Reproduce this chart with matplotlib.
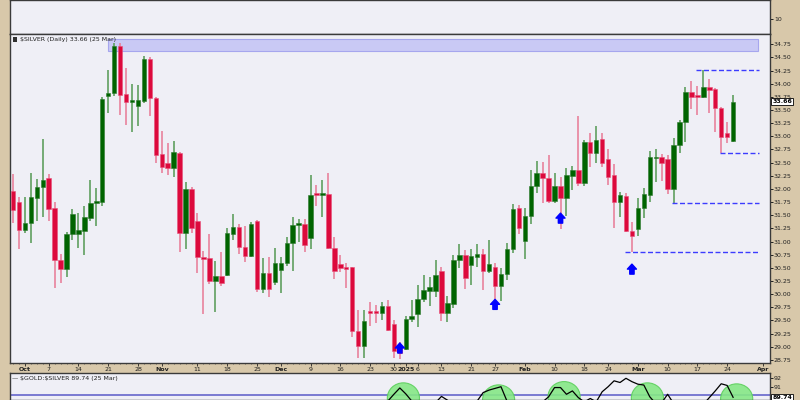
import matplotlib.pyplot as plt
import numpy as np
import pandas as pd
from matplotlib.patches import Ellipse, Rectangle

# trading calendar used on the x axis (market holidays removed)
holidays = ["2024-11-28", "2024-12-25", "2025-01-01", "2025-01-09", "2025-01-20", "2025-02-17"]
calendar = pd.bdate_range("2024-09-27", "2025-04-04").drop(pd.to_datetime(holidays))

# $SILVER daily candles, 27 Sep 2024 .. 25 Mar 2025
opens = [31.96, 31.75, 31.22, 31.35, 31.83, 32.04, 32.21, 31.64, 30.65, 30.48,
         31.14, 31.14, 31.20, 31.45, 31.73, 31.75, 33.77, 33.82, 34.72, 33.80,
         33.65, 33.58, 33.67, 34.47, 33.73, 32.66, 32.49, 32.40, 32.68, 31.16,
         32.00, 31.39, 30.71, 30.69, 30.25, 30.35, 30.36, 31.14, 31.28, 30.90,
         30.73, 31.39, 30.10, 30.40, 30.23, 30.46, 30.59, 30.97, 31.31, 31.33,
         31.07, 31.91, 31.89, 31.91, 30.88, 30.57, 30.51, 30.51, 29.30, 29.01,
         29.68, 29.68, 29.64, 29.77, 29.43, 28.98, 28.96, 29.53, 29.62, 29.91,
         30.06, 30.06, 30.44, 29.64, 29.81, 30.65, 30.74, 30.55, 30.71, 30.76,
         30.44, 30.52, 30.15, 30.38, 30.86, 31.64, 31.01, 31.49, 32.06, 32.30,
         32.21, 31.77, 32.06, 31.83, 32.25, 32.36, 32.11, 32.89, 32.68, 32.95,
         32.57, 32.27, 31.75, 31.87, 31.20, 31.24, 31.64, 31.89, 32.59, 32.61,
         32.57, 32.00, 32.84, 33.27, 33.84, 33.79, 33.75, 33.94, 33.90, 33.54,
         33.06, 32.91]
highs = [32.28, 31.85, 31.85, 32.30, 32.19, 32.95, 32.28, 31.75, 30.76, 31.18,
         31.62, 31.54, 31.68, 32.17, 32.02, 33.75, 34.26, 34.77, 34.77, 34.30,
         34.00, 33.98, 34.53, 34.51, 33.74, 33.10, 32.87, 32.91, 32.70, 32.13,
         32.04, 31.54, 30.82, 31.14, 30.63, 30.80, 31.26, 31.52, 31.33, 31.30,
         31.37, 31.41, 30.69, 30.71, 30.88, 30.71, 31.09, 31.47, 31.43, 31.43,
         32.27, 32.08, 32.17, 32.30, 31.09, 30.74, 30.59, 30.52, 29.70, 29.70,
         29.85, 29.79, 29.85, 29.89, 29.51, 29.09, 29.58, 29.89, 30.17, 30.36,
         30.33, 30.65, 30.52, 29.96, 30.74, 30.95, 30.84, 30.86, 30.95, 30.86,
         31.03, 30.59, 30.50, 30.97, 31.71, 31.69, 31.64, 32.36, 32.53, 32.51,
         32.65, 32.30, 32.23, 32.40, 32.44, 33.39, 32.93, 33.06, 33.20, 33.06,
         32.76, 32.47, 31.94, 31.92, 31.37, 31.83, 32.02, 32.72, 32.76, 32.66,
         32.65, 32.97, 33.31, 33.94, 34.05, 33.96, 34.26, 34.09, 33.92, 33.55,
         33.27, 33.79]
lows = [31.35, 30.86, 31.16, 30.97, 31.39, 31.47, 31.39, 30.12, 30.21, 30.33,
        31.03, 30.88, 30.74, 31.39, 31.30, 31.68, 33.44, 33.77, 33.41, 33.22,
        33.08, 33.20, 33.63, 33.39, 32.49, 32.30, 32.27, 32.23, 30.80, 30.86,
        31.16, 30.40, 29.62, 30.19, 29.66, 30.15, 30.35, 31.03, 30.76, 30.61,
        30.71, 30.04, 30.02, 29.95, 30.17, 30.02, 30.54, 30.44, 30.99, 30.80,
        30.86, 31.68, 31.47, 30.86, 30.29, 30.42, 30.12, 29.19, 28.78, 28.78,
        29.39, 29.45, 29.51, 29.30, 28.78, 28.76, 28.94, 29.47, 29.37, 29.85,
        29.77, 29.95, 29.49, 29.47, 29.74, 30.50, 30.10, 30.17, 30.52, 30.08,
        30.40, 29.70, 29.87, 30.27, 30.78, 31.14, 30.67, 31.33, 31.92, 31.73,
        31.73, 31.73, 31.24, 31.49, 31.98, 32.06, 32.06, 32.42, 32.49, 32.42,
        32.08, 31.26, 31.47, 31.18, 30.80, 31.11, 31.45, 31.75, 32.13, 32.15,
        31.90, 31.74, 32.68, 32.89, 33.52, 33.41, 33.73, 33.44, 33.08, 32.68,
        32.87, 32.89]
closes = [31.60, 31.22, 31.35, 31.85, 32.04, 32.17, 31.62, 30.65, 30.48, 31.14,
          31.52, 31.22, 31.47, 31.73, 31.77, 33.71, 33.82, 34.72, 33.79, 33.65,
          33.69, 33.69, 34.47, 33.73, 32.65, 32.42, 32.40, 32.70, 31.16, 32.00,
          31.26, 30.71, 30.67, 30.25, 30.35, 30.21, 31.16, 31.28, 30.90, 30.73,
          31.33, 30.10, 30.40, 30.10, 30.59, 30.59, 30.97, 31.31, 31.35, 30.93,
          31.89, 31.89, 31.91, 30.88, 30.44, 30.50, 30.48, 29.30, 29.01, 29.49,
          29.64, 29.64, 29.77, 29.32, 28.92, 28.88, 29.53, 29.58, 29.91, 30.08,
          30.14, 30.36, 29.64, 29.83, 30.65, 30.74, 30.31, 30.73, 30.76, 30.44,
          30.57, 30.15, 30.38, 30.86, 31.62, 31.26, 31.49, 32.06, 32.30, 32.21,
          31.77, 32.06, 31.83, 32.27, 32.36, 32.11, 32.89, 32.68, 32.93, 32.49,
          32.23, 31.75, 31.89, 31.20, 31.11, 31.64, 31.90, 32.61, 32.61, 32.49,
          32.00, 32.84, 33.27, 33.84, 33.75, 33.75, 33.94, 33.88, 33.54, 32.99,
          32.99, 33.66]

# $GOLD:$SILVER ratio for the same days
ratio = [84.6, 84.3, 84.5, 84.9, 84.4, 84.2, 84.8, 85.6, 86.0, 85.3,
         84.6, 84.9, 84.5, 83.6, 83.9, 81.8, 81.6, 80.6, 81.4, 81.7,
         81.8, 82.4, 80.8, 81.5, 83.4, 83.8, 83.6, 83.2, 85.1, 84.2,
         85.0, 85.5, 85.7, 86.6, 86.7, 86.4, 85.7, 86.2, 86.6, 86.9,
         86.3, 87.6, 87.4, 88.0, 87.3, 87.6, 86.8, 86.5, 86.9, 87.5,
         86.9, 87.2, 87.4, 87.9, 88.4, 88.6, 88.7, 88.9, 89.1, 88.6,
         88.8, 88.9, 88.7, 89.3, 90.1, 90.85, 90.15, 89.3, 88.9, 88.6,
         88.8, 89.1, 89.85, 89.4, 88.7, 88.5, 88.9, 89.0, 89.3, 90.3,
         90.6, 90.8, 91.0, 89.3, 88.7, 88.9, 88.5, 88.2, 88.6, 89.2,
         89.8, 90.9, 90.9, 90.1, 90.5, 89.7, 89.2, 89.6, 89.2, 90.4,
         91.0, 91.7, 91.5, 92.0, 91.6, 91.3, 91.2, 89.8, 89.0, 89.1,
         90.1, 89.0, 88.7, 88.4, 88.6, 88.9, 88.9, 89.7, 90.5, 91.35,
         91.15, 89.74]

tick_dates = ["2024-10-01", "2024-10-07", "2024-10-14", "2024-10-21", "2024-10-28",
              "2024-11-01", "2024-11-11", "2024-11-18", "2024-11-25", "2024-12-02",
              "2024-12-09", "2024-12-16", "2024-12-23", "2024-12-30", "2025-01-02",
              "2025-01-06", "2025-01-13", "2025-01-21", "2025-01-27", "2025-02-03",
              "2025-02-10", "2025-02-18", "2025-02-24", "2025-03-03", "2025-03-10",
              "2025-03-17", "2025-03-24", "2025-04-01"]
tick_labels = ["Oct", "7", "14", "21", "28", "Nov", "11", "18", "25", "Dec", "9", "16",
               "23", "30", "2025", "6", "13", "21", "27", "Feb", "10", "18", "24",
               "Mar", "10", "17", "24", "Apr"]
bold_labels = ["Oct", "Nov", "Dec", "2025", "Feb", "Mar", "Apr"]

# annotations drawn on the chart
zone_low, zone_high = 34.63, 34.86
level_prices = [34.26, 32.68, 31.74, 30.80]
level_dates = ["2025-03-17", "2025-03-21", "2025-03-11", "2025-02-27"]
arrow_dates = ["2024-12-31", "2025-01-27", "2025-02-11", "2025-02-28"]
arrow_tips = [29.07, 29.90, 31.54, 30.57]
circle_dates = ["2024-12-31", "2025-01-27", "2025-02-11", "2025-03-04", "2025-03-25"]
circle_centers = [89.66, 89.42, 89.81, 89.66, 89.54]

TAN = "#d8c8aa"
PANEL = "#efeff6"
UP = "#006400"
DOWN = "#dc0a3c"
UP_WICK = "#5f9f5f"
DOWN_WICK = "#e8829c"
EDGE = "#3a3a3a"
FONT = 4.5

W, H = 800, 400


def pos(date):
    return calendar.get_loc(pd.Timestamp(date))


def style_panel(a):
    a.set_facecolor(PANEL)
    for sp in a.spines.values():
        sp.set_color(EDGE)
        sp.set_linewidth(1.0)
    a.yaxis.tick_right()
    a.tick_params(axis="y", which="both", direction="out", length=2.2, width=0.7,
                  pad=0.6, labelsize=FONT, colors="#202020")


def price_box(a, value, text):
    a.annotate(text, xy=(1.0, value), xycoords=a.get_yaxis_transform(),
               xytext=(1.6, 0), textcoords="offset points", ha="left", va="center",
               fontsize=FONT, fontweight="bold", annotation_clip=False, zorder=6,
               bbox=dict(boxstyle="square,pad=0.15", fc="white", ec="black", lw=0.6))


fig = plt.figure(figsize=(W / 100, H / 100), dpi=100, facecolor=TAN)
plt.rcParams["font.family"] = ["DejaVu Sans"]

left, width = 10 / W, 760 / W
x_lo, x_hi = -0.5, 127.2

ax_top = fig.add_axes([left, 1 - 34 / H, width, 34 / H])
ax = fig.add_axes([left, 1 - 363 / H, width, (363 - 34) / H])
ax_bot = fig.add_axes([left, 0, width, (400 - 373) / H])

for a in (ax_top, ax, ax_bot):
    style_panel(a)
    a.set_xlim(x_lo, x_hi)

# top (empty) indicator panel
ax_top.set_ylim(0, 22.67)
ax_top.set_yticks([10])
ax_top.set_xticks([])

# candles
o = np.array(opens)
h = np.array(highs)
l = np.array(lows)
c = np.array(closes)
idx = np.arange(len(c))
up = c >= o
body_lo = np.minimum(o, c)
body_h = np.maximum(np.abs(c - o), 0.025)

ax.add_patch(Rectangle((pos("2024-10-21") - 0.05, zone_low), 125.3 - pos("2024-10-21"),
                       zone_high - zone_low, fc="#c9c9f5", ec="#a6a6ee", lw=0.8, zorder=1))
ax.vlines(idx, l, h, colors=np.where(up, UP_WICK, DOWN_WICK), lw=1.2, zorder=2)
ax.bar(idx, body_h, bottom=body_lo, width=0.75, color=np.where(up, UP, DOWN),
       edgecolor=np.where(up, "#2d7a2d", "#e8507a"), lw=0.4, zorder=3)

for price, d in zip(level_prices, level_dates):
    ax.hlines(price, pos(d) - 0.2, 125.3, colors="#3c3cff", lw=1.0,
              linestyles=(0, (3.6, 1.8)), zorder=2)

for d, tip in zip(arrow_dates, arrow_tips):
    ax.annotate("", xy=(pos(d), tip), xytext=(pos(d), tip - 0.19),
                arrowprops=dict(arrowstyle="simple,head_length=0.55,head_width=1.0,tail_width=0.48",
                                color="#0000ff", shrinkA=0, shrinkB=0, mutation_scale=6.5),
                zorder=5)

ax.set_ylim(28.69, 34.946)
ax.set_yticks(np.arange(28.75, 34.76, 0.25))
ax.set_yticklabels([f"{v:.2f}" for v in np.arange(28.75, 34.76, 0.25)])
price_box(ax, closes[-1], f"{closes[-1]:.2f}")

ax.set_xticks([pos(d) for d in tick_dates], tick_labels)
ax.set_xticks(idx, minor=True)
ax.tick_params(axis="x", which="major", length=1.8, width=0.6, pad=1.0,
               labelsize=FONT, colors="#202020")
ax.tick_params(axis="x", which="minor", length=1.0, width=0.5, colors="#404040")
for t in ax.get_xticklabels():
    if t.get_text() in bold_labels:
        t.set_fontweight("bold")

fig.patches.append(Rectangle((13 / W, 1 - 42 / H), 3.5 / W, 5 / H, transform=fig.transFigure,
                             fc="#303030", ec="none"))
fig.text(20 / W, 1 - 39.5 / H, "$SILVER (Daily) 33.66 (25 Mar)", fontsize=FONT,
         ha="left", va="center", color="#202020", parse_math=False)

# ratio panel
ax_bot.axhline(90, color="#5a5ac8", lw=1.1, zorder=1)
for d, cy in zip(circle_dates, circle_centers):
    ax_bot.add_patch(Ellipse((pos(d) + 0.6, cy), 5.4, 3.6, fc="#86e886", ec="#5ccf5c",
                             lw=0.8, alpha=0.9, zorder=2))
ax_bot.plot(idx, ratio, color="black", lw=0.9, zorder=3)
ax_bot.set_ylim(89.42, 92.63)
ax_bot.set_yticks([91, 92])
ax_bot.set_xticks([])
price_box(ax_bot, ratio[-1], f"{ratio[-1]:.2f}")

fig.text(12 / W, 1 - 378.5 / H, "\u2014", fontsize=FONT, ha="left", va="center", color="#202020")
fig.text(20 / W, 1 - 378.5 / H, "$GOLD:$SILVER 89.74 (25 Mar)", fontsize=FONT,
         ha="left", va="center", color="#202020", parse_math=False)

fig.savefig("out.png", dpi=100, facecolor=TAN)
